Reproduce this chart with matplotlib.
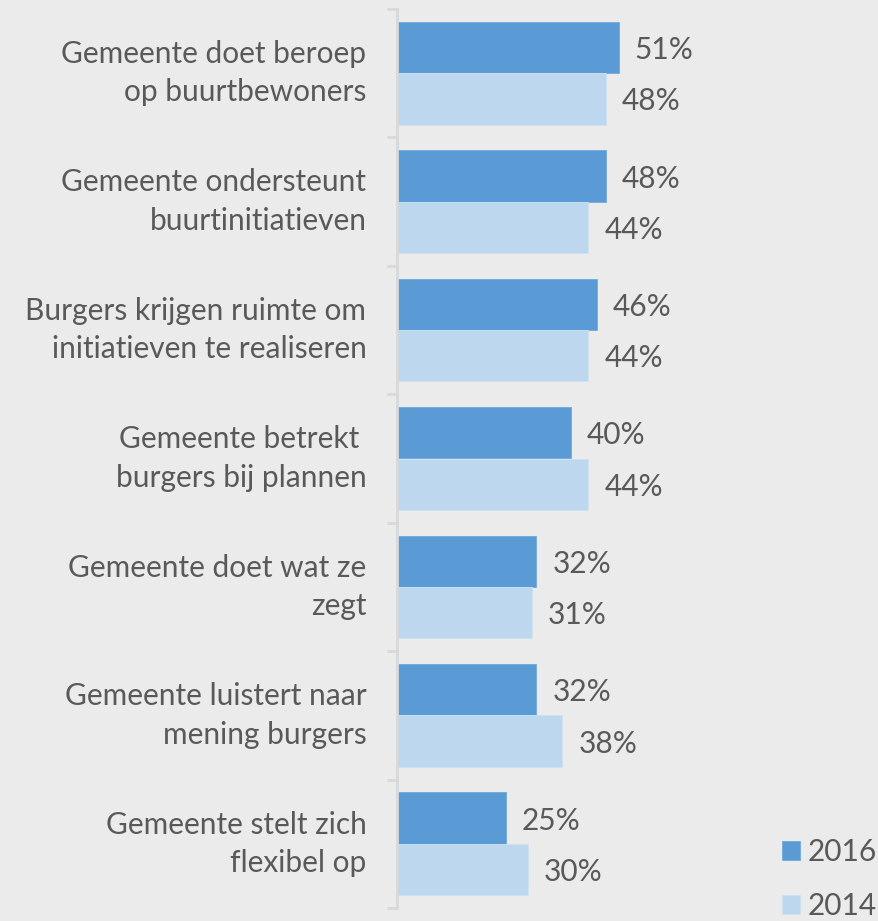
import matplotlib
matplotlib.use('Agg')
import matplotlib.pyplot as plt
import numpy as np

categories = [
    'Gemeente doet beroep\nop buurtbewoners',
    'Gemeente ondersteunt\nbuurtinitiatieven',
    'Burgers krijgen ruimte om\ninitiatieven te realiseren',
    'Gemeente betrekt \nburgers bij plannen',
    'Gemeente doet wat ze\nzegt',
    'Gemeente luistert naar\nmening burgers',
    'Gemeente stelt zich\nflexibel op',
]
vals_2016 = [51, 48, 46, 40, 32, 32, 25]
vals_2014 = [48, 44, 44, 44, 31, 38, 30]

bg = '#ebebeb'
c2016 = '#5b9bd5'
c2014 = '#bdd7ee'
txt = '#595959'
W, H = 879, 921
fs = 21.5

plt.rcParams['font.family'] = ['Lato', 'DejaVu Sans']

fig = plt.figure(figsize=(W / 100, H / 100), dpi=100, facecolor=bg)
ax = fig.add_axes([397 / W, 1 - 908 / H, (W - 397) / W, 899 / H], facecolor=bg)

n = len(categories)
y = np.arange(n)
h = 0.4
ax.barh(y - h / 2, vals_2016, height=h, color=c2016, edgecolor='#6fa8dc', linewidth=0.6, label='2016')
ax.barh(y + h / 2, vals_2014, height=h, color=c2014, edgecolor='#cfe2f3', linewidth=0.6, label='2014')

px = 110.8 / (W - 397)  # data units per pixel along x
for i in range(n):
    ax.text(vals_2016[i] + 16 * px, y[i] - h / 2 + 0.02, f'{vals_2016[i]}%', va='center', ha='left',
            fontsize=fs, color=txt)
    ax.text(vals_2014[i] + 16 * px, y[i] + h / 2 + 0.02, f'{vals_2014[i]}%', va='center', ha='left',
            fontsize=fs, color=txt)

ax.set_xlim(0, 110.8)
ax.set_ylim(n - 0.5, -0.5)
ax.set_xticks([])
ax.set_yticks(y)
ax.set_yticklabels(categories, fontsize=fs, color=txt, linespacing=1.45)
for t in ax.get_yticklabels():
    t.set_va('center')
    t.set_y(t.get_position()[1])
ax.tick_params(axis='y', which='major', length=0, pad=22)
ax.set_yticks(np.arange(n + 1) - 0.5, minor=True)
ax.tick_params(axis='y', which='minor', length=7.5, width=2, color='#d9d9d9')
for s in ['top', 'right', 'bottom']:
    ax.spines[s].set_visible(False)
ax.spines['left'].set_color('#d9d9d9')
ax.spines['left'].set_linewidth(2)

leg = fig.legend(loc='upper left', bbox_to_anchor=(782 / W, 1 - 838 / H), frameon=False,
                 fontsize=fs, labelcolor=txt, handlelength=0.6, handleheight=0.6,
                 handletextpad=0.25, labelspacing=0.86, borderpad=0, borderaxespad=0)

fig.savefig('out.png', dpi=100, facecolor=bg)
